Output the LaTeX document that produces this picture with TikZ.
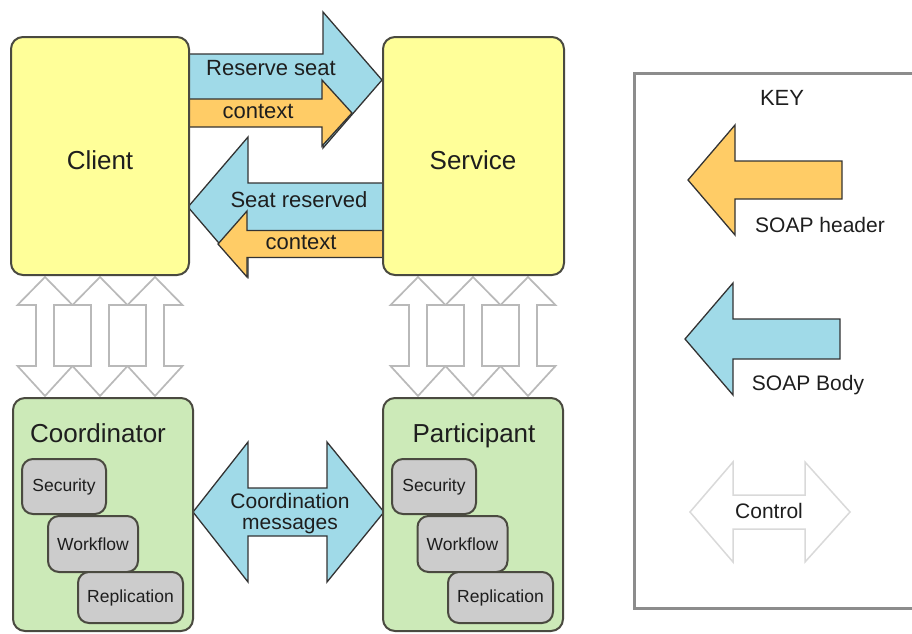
\documentclass[tikz,border=0pt]{standalone}
\usepackage{fontspec}
\setmainfont{Liberation Sans}
\usetikzlibrary{backgrounds}
\definecolor{cyel}{HTML}{FFFF99}
\definecolor{cgrn}{HTML}{CCEAB8}
\definecolor{cblu}{HTML}{A0DAE8}
\definecolor{corg}{HTML}{FFCC66}
\definecolor{cgry}{HTML}{CCCCCC}
\definecolor{cbrd}{HTML}{4A4A40}
\definecolor{ctxt}{HTML}{1E1E1E}
% right/left block arrow: style, tail x, head base x, tip x, centre y, shaft half, head half
\newcommand\harrow[7]{\draw[#1] ({#2},{#5-#6}) -- ({#3},{#5-#6}) -- ({#3},{#5-#7}) -- ({#4},{#5}) -- ({#3},{#5+#7}) -- ({#3},{#5+#6}) -- ({#2},{#5+#6}) -- cycle;}
% horizontal double block arrow: style, cy, left tip, left base, right base, right tip, shaft half, head half
\newcommand\hdbl[8]{\draw[#1] ({#3},{#2}) -- ({#4},{#2-#8}) -- ({#4},{#2-#7}) -- ({#5},{#2-#7}) -- ({#5},{#2-#8}) -- ({#6},{#2}) -- ({#5},{#2+#8}) -- ({#5},{#2+#7}) -- ({#4},{#2+#7}) -- ({#4},{#2+#8}) -- cycle;}
% vertical double block arrow: style, cx, top tip, base1, base2, bottom tip, shaft half, head half
\newcommand\vdbl[8]{\draw[#1] ({#2},{#3}) -- ({#2+#8},{#4}) -- ({#2+#7},{#4}) -- ({#2+#7},{#5}) -- ({#2+#8},{#5}) -- ({#2},{#6}) -- ({#2-#8},{#5}) -- ({#2-#7},{#5}) -- ({#2-#7},{#4}) -- ({#2-#8},{#4}) -- cycle;}
\begin{document}
\begin{tikzpicture}[x=1pt,y=-1pt,
  ybox/.style={rounded corners=12, fill=cyel, draw=cbrd, line width=2},
  gbox/.style={rounded corners=12, fill=cgrn, draw=cbrd, line width=2},
  sbox/.style={rounded corners=11, fill=cgry, draw=cbrd, line width=2, text=ctxt, font=\fontsize{17.5}{20}\selectfont},
  title/.style={inner sep=0, anchor=base, text=ctxt, font=\fontsize{26}{30}\selectfont},
  lbl/.style={inner sep=0, anchor=base, text=ctxt, font=\fontsize{22}{19}\selectfont},
  klbl/.style={inner sep=0, anchor=base, text=ctxt, font=\fontsize{21}{22}\selectfont},
  blu/.style={fill=cblu, draw=black!80, line width=1.3, line join=miter},
  org/.style={fill=corg, draw=black!80, line width=1.3, line join=miter},
  ctrl/.style={fill=white, draw=gray!55, line width=1.7, line join=miter},
  ctrlkey/.style={fill=white, draw=gray!30, line width=1.5, line join=miter},
  keybox/.style={draw=gray!90, line width=3}]
\useasboundingbox (0,0) rectangle (912,633);

% main boxes
\node[ybox, minimum width=178, minimum height=238] (client) at (100,156) {};
\node[ybox, minimum width=181, minimum height=238] (service) at (473.5,156) {};
\node[title] (clientt) at (100,169) {Client};
\node[title] (servicet) at (473,169) {Service};
\node[gbox, minimum width=180, minimum height=233] (coord) at (103,514.5) {};
\node[gbox, minimum width=180, minimum height=233] (part) at (473,514.5) {};
\node[title] (coordt) at (98,442) {Coordinator};
\node[title] (partt) at (474,442) {Participant};

% sub boxes
\node[sbox, minimum width=84, minimum height=55] (csec) at (64,486.5) {Security};
\node[sbox, minimum width=90, minimum height=56] (cwf) at (93,544) {Workflow};
\node[sbox, minimum width=105, minimum height=51] (crep) at (130.5,597.5) {Replication};
\node[sbox, minimum width=84, minimum height=55] (psec) at (434,486.5) {Security};
\node[sbox, minimum width=90, minimum height=56] (pwf) at (462.5,544) {Workflow};
\node[sbox, minimum width=105, minimum height=51] (prep) at (500.5,597.5) {Replication};

% key box
\node[keybox, minimum width=286, minimum height=535] (key) at (777,340.5) {};
\node[inner sep=0, anchor=base, text=ctxt, font=\fontsize{22}{24}\selectfont] (keyt) at (782,105) {KEY};

\begin{scope}[on background layer]
  % control arrows
  \vdbl{ctrl}{45}{277}{305}{366}{396}{9}{27.5}
  \vdbl{ctrl}{100}{277}{305}{366}{396}{9}{27.5}
  \vdbl{ctrl}{155}{277}{305}{366}{396}{9}{27.5}
  \vdbl{ctrl}{418}{277}{305}{366}{396}{9}{27.5}
  \vdbl{ctrl}{473}{277}{305}{366}{396}{9}{27.5}
  \vdbl{ctrl}{528}{277}{305}{366}{396}{9}{27.5}
  % message arrows
  \harrow{blu}{189}{323}{382}{80}{26}{68}
  \harrow{org}{189}{322}{352}{113}{14}{33}
  \harrow{blu}{383}{248}{188}{207}{24}{70}
  \harrow{org}{383}{247}{218}{244}{13.5}{33}
  \hdbl{blu}{512}{193}{248}{327}{384}{24}{70}
\end{scope}

% key arrows
\harrow{org}{842}{735}{688}{180}{19}{55}
\harrow{blu}{840}{733}{685}{339}{20}{56}
\hdbl{ctrlkey}{512}{690}{733}{805}{850}{17}{50}

% labels
\node[lbl] (l1) at (271,75) {Reserve seat};
\node[lbl] (l2) at (258,118) {context};
\node[lbl] (l3) at (299,207) {Seat reserved};
\node[lbl] (l4) at (301,249) {context};
\node[lbl, font=\fontsize{21}{19}\selectfont] (l5) at (290,508) {Coordination};
\node[lbl, font=\fontsize{21}{19}\selectfont] (l6) at (290,529) {messages};
\node[klbl] (k1) at (820,232) {SOAP header};
\node[klbl] (k2) at (808,390) {SOAP Body};
\node[klbl] (k3) at (769,518) {Control};
\end{tikzpicture}
\end{document}
